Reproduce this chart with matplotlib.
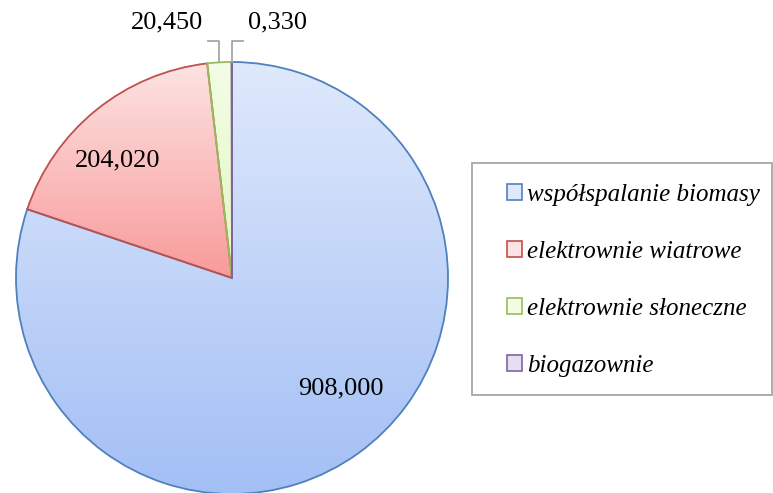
import numpy as np
import matplotlib

matplotlib.use("Agg")
import matplotlib.pyplot as plt
from matplotlib.patches import Patch, Rectangle
from matplotlib.colors import LinearSegmentedColormap

categories = ["współspalanie biomasy", "elektrownie wiatrowe",
              "elektrownie słoneczne", "biogazownie"]
values = [908.000, 204.020, 20.450, 0.330]
value_labels = ["908,000", "204,020", "20,450", "0,330"]

edge_colors = ["#4f81bd", "#c0504d", "#9bbb59", "#8064a2"]
grad_top = ["#dfe9fc", "#fde3e3", "#f3fde6", "#e6def2"]
grad_bot = ["#a3bff5", "#f99a9a", "#e2f7c4", "#c4b4dc"]

W, H = 773, 493
fig = plt.figure(figsize=(W / 100, H / 100), dpi=100)
ax = fig.add_axes([0, 0, 1, 1])

cx, cy, R = 232, H - 278, 216
serif = ["Liberation Serif", "DejaVu Serif"]

wedges, _ = ax.pie(values, startangle=90, counterclock=False,
                   center=(cx, cy), radius=R, frame=True,
                   wedgeprops=dict(linewidth=1.3))
ax.set_xlim(0, W)
ax.set_ylim(0, H)
ax.set_aspect("equal")
ax.axis("off")

# vertical gradient fill, clipped to each wedge
grad = np.linspace(0, 1, 256).reshape(-1, 1)
for w, ec, c0, c1 in zip(wedges, edge_colors, grad_top, grad_bot):
    w.set_facecolor("none")
    w.set_edgecolor(ec)
    w.set_zorder(3)
    verts = w.get_patch_transform().transform(w.get_path().vertices)
    x0, x1 = verts[:, 0].min(), verts[:, 0].max()
    y0, y1 = verts[:, 1].min(), verts[:, 1].max()
    cmap = LinearSegmentedColormap.from_list("g", [c0, c1])
    im = ax.imshow(grad, cmap=cmap, extent=(x0, x1, y0, y1), aspect="auto",
                   zorder=2, interpolation="bilinear")
    im.set_clip_path(w)

# labels inside the big slices
inside_pos = {0: (341, H - 388), 1: (118, H - 160)}
for i, (x, y) in inside_pos.items():
    ax.text(x, y, value_labels[i], ha="center", va="center",
            fontsize=19, family=serif, zorder=5)

# outside labels with leader lines for the thin slices
lead_y = H - 41
for i, side in [(2, -1), (3, 1)]:
    w = wedges[i]
    mid = np.deg2rad((w.theta1 + w.theta2) / 2)
    px, py = cx + R * np.cos(mid), cy + R * np.sin(mid)
    ax.plot([px, px, px + side * 11], [py, lead_y, lead_y],
            color="#a6a6a6", lw=1.3, zorder=4)
    ax.text(px + side * 16, H - 22, value_labels[i],
            ha="right" if side < 0 else "left", va="center",
            fontsize=19, family=serif, zorder=5)

# legend
box = Rectangle((472, H - 395), 300, 232, facecolor="white",
                edgecolor="#a6a6a6", lw=1.3, zorder=6)
ax.add_patch(box)
handles = [Patch(facecolor=c0, edgecolor=ec, lw=1.2)
           for c0, ec in zip(grad_top, edge_colors)]
leg = ax.legend(handles, categories, loc="upper left",
                bbox_to_anchor=(507 / W, (H - 184) / H), frameon=False,
                prop=dict(family=serif, style="italic", size=18),
                handlelength=0.6, handleheight=0.6, handletextpad=0.2,
                labelspacing=1.4, borderpad=0, borderaxespad=0)
leg.set_zorder(7)

fig.savefig("out.png", dpi=100)
